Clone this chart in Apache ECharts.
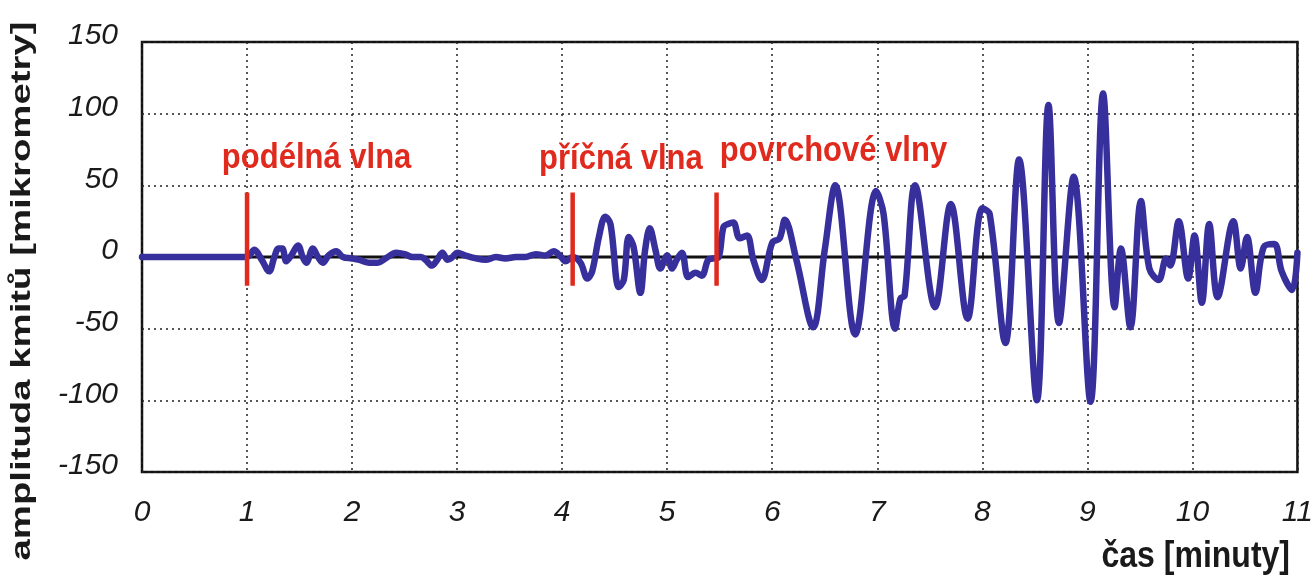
<!DOCTYPE html>
<html>
<head>
<meta charset="utf-8">
<script src="https://cdn.jsdelivr.net/npm/echarts@6/dist/echarts.min.js"></script>
<style>
html,body{margin:0;padding:0;background:#fff;}
#chart{width:1316px;height:577px;}
</style>
</head>
<body>
<div id="chart"></div>
<script>
// time in minutes
const times = [0,0.5,1.0,1.07,1.14,1.21,1.26,1.30,1.335,1.374,1.42,1.485,1.53,1.564,1.627,1.675,1.722,1.776,1.849,1.912,2.0,2.07,2.165,2.244,2.32,2.42,2.5,2.577,2.656,2.70,2.76,2.81,2.86,2.91,2.956,3.0,3.08,3.18,3.27,3.37,3.46,3.56,3.65,3.75,3.84,3.92,3.99,4.03,4.10,4.175,4.24,4.286,4.35,4.41,4.46,4.54,4.587,4.634,4.68,4.745,4.79,4.834,4.888,4.935,5.0,5.046,5.09,5.14,5.2,5.27,5.33,5.39,5.44,5.49,5.536,5.58,5.63,5.69,5.76,5.82,5.90,6.0,6.07,6.12,6.23,6.39,6.50,6.60,6.79,6.99,7.06,7.17,7.22,7.26,7.36,7.55,7.70,7.86,8.0,8.07,8.22,8.35,8.52,8.63,8.73,8.87,9.03,9.15,9.26,9.32,9.41,9.51,9.59,9.68,9.75,9.79,9.87,9.96,10.02,10.09,10.16,10.24,10.39,10.46,10.52,10.60,10.68,10.78,10.85,10.95,11.0];
// amplitude in micrometres
const amplitudes = [0,0,0,5,-2,-10,0,6,6,-3,1,8,0,-4,6,0,-4,1,4,0,-1,-2,-4,-4,-1,3,2,0,0,-2,-6,-2,3,-2,0,3,1,-1,-2,0,-1,0,0,2,1,4,0,-3,0,-4,-15,-10,14,28,23,-21,-16,14,7,-25,5,20,5,-8,1,-8,-2,3,-14,-11,-13,-2,-1,0,21,23,24,13,15,-2,-16,10,13,26,-2,-49,5,50,-54,46,30,-50,-29,-27,50,-35,37,-43,34,30,-60,68,-100,106,-46,56,-101,114,-35,6,-49,39,-8,-16,-1,-6,25,-15,15,-32,23,-28,25,-8,14,-25,7,9,-10,-23,3];

const markerTimes = [1.0, 4.1, 5.47];
const markerRange = [-20, 45];
const waveNames = ['podélná vlna', 'příčná vlna', 'povrchové vlny'];
const waveNameTimes = [0.76, 3.78, 5.5];
const waveNameValues = [69, 68, 74];

const xTicks = [0,1,2,3,4,5,6,7,8,9,10,11];
const yTicks = [-150,-100,-50,0,50,100,150];
const xTitle = 'čas [minuty]';
const yTitle = 'amplituda kmitů [mikrometry]';

const waveData = times.map((t, i) => [t, amplitudes[i]]);
const BLUE = '#372f9c';
const RED = '#e02a1e';
const FONT = '"Liberation Sans", Arial, sans-serif';

const series = [
  {
    type: 'line', name: 'zero', data: [[xTicks[0], 0], [xTicks[xTicks.length-1], 0]],
    showSymbol: false, silent: true, z: 1,
    lineStyle: { color: '#111', width: 3 }
  },
  {
    type: 'line', name: 'wave', data: waveData, smooth: 0.35,
    showSymbol: false, z: 3,
    lineStyle: { color: BLUE, width: 6.5, join: 'round', cap: 'round' }
  }
];
markerTimes.forEach((t) => {
  series.push({
    type: 'line', data: [[t, markerRange[0]], [t, markerRange[1]]],
    showSymbol: false, z: 5, silent: true,
    lineStyle: { color: RED, width: 4.5 }
  });
});
series.push({
  type: 'custom', z: 6, silent: true,
  data: waveNames.map((n, i) => [waveNameTimes[i], waveNameValues[i], i]),
  renderItem: (params, api) => {
    const p = api.coord([api.value(0), api.value(1)]);
    return {
      type: 'text', x: p[0], y: p[1], scaleY: 1.12,
      style: {
        text: waveNames[api.value(2)], fill: RED,
        font: 'bold 31px "Liberation Sans", Arial, sans-serif',
        textAlign: 'left', textVerticalAlign: 'middle'
      }
    };
  }
});

const chart = echarts.init(document.getElementById('chart'), null, { renderer: 'canvas', width: 1316, height: 577 });
chart.setOption({
  animation: false,
  backgroundColor: '#ffffff',
  grid: {
    left: 142, right: 16, top: 42, bottom: 105,
    show: true, borderColor: '#111', borderWidth: 2.5, backgroundColor: 'transparent'
  },
  xAxis: {
    type: 'value', min: xTicks[0], max: xTicks[xTicks.length-1], interval: 1,
    axisLine: { show: false },
    axisTick: { show: true, inside: true, length: 4, lineStyle: { color: '#111', width: 1.5 } },
    axisLabel: {
      margin: 26, fontFamily: FONT, fontStyle: 'italic', fontSize: 30, color: '#1a1a1a',
      formatter: (v) => String(v)
    },
    splitLine: { show: true, lineStyle: { type: [2, 4], color: '#222', width: 1.5 } }
  },
  yAxis: {
    type: 'value', min: yTicks[0], max: yTicks[yTicks.length-1], interval: 50,
    axisLine: { show: false },
    axisTick: { show: false },
    axisLabel: {
      margin: 24, fontFamily: FONT, fontStyle: 'italic', fontSize: 30, color: '#1a1a1a',
      verticalAlign: 'bottom', lineHeight: 12
    },
    splitLine: { show: true, lineStyle: { type: [2, 4], color: '#222', width: 1.5 } }
  },
  graphic: [
    {
      type: 'text', x: 22, y: 291, rotation: Math.PI / 2, scaleX: 1.42, scaleY: 1.05,
      style: {
        text: yTitle, font: 'bold 27px "Liberation Sans", Arial, sans-serif',
        fill: '#1a1a1a', textAlign: 'center', textVerticalAlign: 'middle'
      }
    },
    {
      type: 'text', x: 1290, y: 557, scaleX: 1, scaleY: 1.15,
      style: {
        text: xTitle, font: 'bold 32px "Liberation Sans", Arial, sans-serif',
        fill: '#1a1a1a', textAlign: 'right', textVerticalAlign: 'middle'
      }
    }
  ],
  series: series
});
</script>
</body>
</html>
